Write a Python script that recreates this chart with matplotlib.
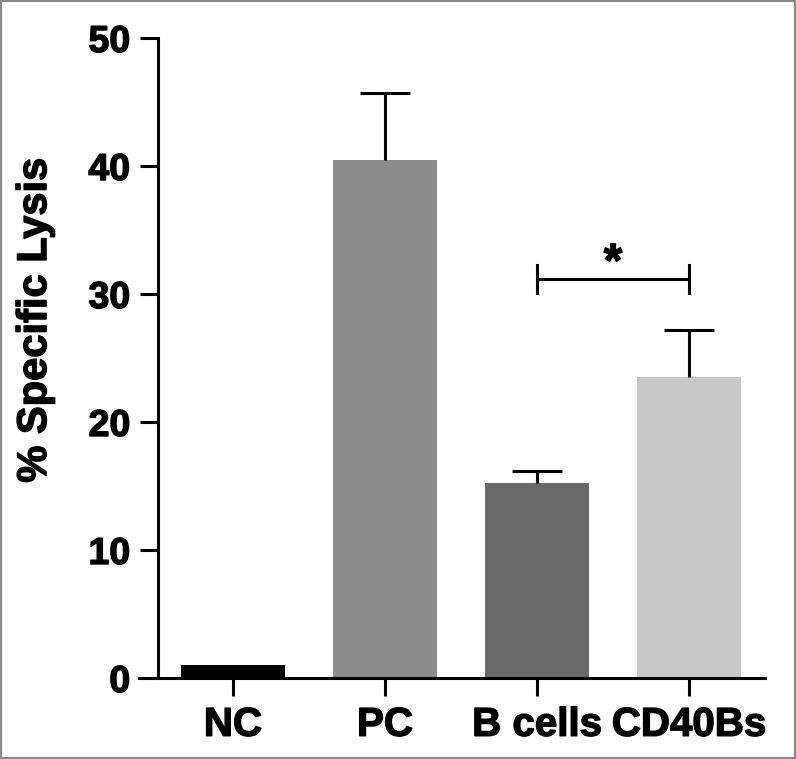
import numpy as np
import matplotlib.pyplot as plt
import matplotlib.patheffects as pe
from matplotlib.patches import Rectangle

plt.rcParams['font.family'] = ['Liberation Sans', 'DejaVu Sans']
plt.rcParams['font.weight'] = 'bold'

groups = ["NC", "PC", "B cells", "CD40Bs"]
lysis = [1.0, 40.5, 15.2, 23.5]
sem = [0.0, 5.2, 1.0, 3.7]
colors = ["#000000", "#8c8c8c", "#6a6a6a", "#c8c8c8"]
yticks = [0, 10, 20, 30, 40, 50]
sig_pair = (2, 3)
sig_y = 31.2

W, H = 796, 759
fig = plt.figure(figsize=(W / 100, H / 100), dpi=100)
# axes spans x-axis line from px 139 to 765, y from 678 (0) to 38 (50)
ax = fig.add_axes([139 / W, 1 - 678 / H, (765 - 139) / W, (678 - 38) / H])

x = np.arange(len(groups))
ax.bar(x, lysis, width=0.68, color=colors, zorder=2)
# upper-only error bars
top = np.array(lysis) + np.array(sem)
ax.vlines(x[1:], np.array(lysis)[1:], top[1:], color='black', lw=2.2, zorder=3)
ax.hlines(top[1:], x[1:] - 0.165, x[1:] + 0.165, color='black', lw=2.2, zorder=3)

ax.set_xlim(-0.618, 3.5)
ax.set_ylim(0, 50)
ax.spines['left'].set_position(('data', -0.493))
ax.spines['right'].set_visible(False)
ax.spines['top'].set_visible(False)
for s in ['left', 'bottom']:
    ax.spines[s].set_linewidth(2.2)

bold = [pe.withStroke(linewidth=1.0, foreground='black')]
ax.set_yticks(yticks)
ax.set_xticks(x)
ax.set_xticklabels(groups)
ax.tick_params(axis='y', labelsize=27, width=2.2, length=13, pad=7)
ax.tick_params(axis='x', labelsize=29, width=2.2, length=13, pad=7)
for lab in ax.get_xticklabels() + ax.get_yticklabels():
    lab.set_fontweight('bold')
    lab.set_path_effects(bold)

ax.set_ylabel("% Specific Lysis", fontsize=30, fontweight='bold', path_effects=bold,
              va='center')
ax.yaxis.set_label_coords(-0.166, 0.559)

# significance bracket
x0, x1 = sig_pair
ax.plot([x0, x1], [sig_y, sig_y], color='black', lw=2.2, clip_on=False)
for xx in (x0, x1):
    ax.plot([xx, xx], [sig_y - 1.1, sig_y + 1.1], color='black', lw=2.2, clip_on=False)
ax.text((x0 + x1) / 2, sig_y - 0.6, "*", ha='center', va='bottom', fontsize=34,
        fontweight='bold', path_effects=bold)

fig.patches.append(Rectangle((0, 0), 1, 1, transform=fig.transFigure, fill=False,
                             edgecolor='#8a8a8a', linewidth=3))

fig.savefig("out.png", dpi=100)
